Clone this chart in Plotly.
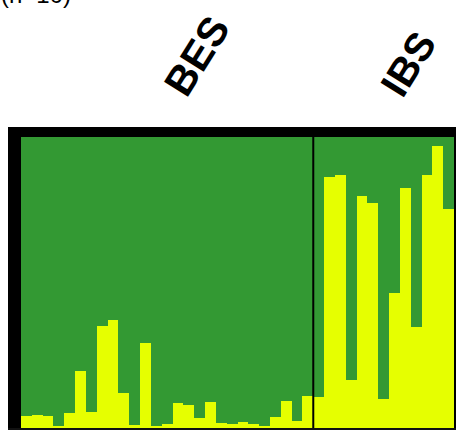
import plotly.graph_objects as go

# Data: ancestry proportion of the yellow cluster for each individual
bes_yellow = [0.042, 0.045, 0.042, 0.008, 0.053, 0.195, 0.056, 0.349, 0.370, 0.120,
              0.010, 0.292, 0.006, 0.014, 0.087, 0.079, 0.033, 0.089, 0.018, 0.014,
              0.019, 0.014, 0.006, 0.037, 0.094, 0.024, 0.111]
ibs_yellow = [0.105, 0.864, 0.870, 0.166, 0.798, 0.772, 0.100, 0.464, 0.824, 0.346,
              0.869, 0.968, 0.752]
group_labels = ["BES", "IBS"]
sample_note = "(n=10)"

yellow = bes_yellow + ibs_yellow
green = [1 - v for v in yellow]
xs = list(range(len(yellow)))

YELLOW = "#E6FF00"
GREEN = "#339933"

fig = go.Figure()
fig.add_trace(go.Bar(x=xs, y=yellow, marker=dict(color=YELLOW, line=dict(width=0)),
                     showlegend=False, hoverinfo="skip"))
fig.add_trace(go.Bar(x=xs, y=green, marker=dict(color=GREEN, line=dict(width=0)),
                     showlegend=False, hoverinfo="skip"))

W, H = 456, 431
L, R, T, B = 21, 2, 137, 3
pw, ph = W - L - R, H - T - B

def px(xp):
    return (xp - L) / pw

def py(yp):
    return (H - B - yp) / ph

n_bes = len(bes_yellow)

shapes = [
    # divider between populations
    dict(type="line", xref="x", yref="paper", x0=n_bes - 0.5, x1=n_bes - 0.5,
         y0=0, y1=1, line=dict(color="black", width=2)),
    # thick left border
    dict(type="rect", xref="paper", yref="paper", x0=px(8), x1=0, y0=py(430), y1=py(127),
         fillcolor="black", line=dict(width=0)),
    # thick top border
    dict(type="rect", xref="paper", yref="paper", x0=px(8), x1=px(470), y0=1, y1=py(127),
         fillcolor="black", line=dict(width=0)),
    # right border start
    dict(type="rect", xref="paper", yref="paper", x0=1, x1=px(470), y0=py(430), y1=py(127),
         fillcolor="black", line=dict(width=0)),
    # bottom thin line
    dict(type="rect", xref="paper", yref="paper", x0=px(8), x1=px(470), y0=py(430), y1=0,
         fillcolor="#111111", line=dict(width=0)),
]

annotations = [
    dict(text="<b>%s</b>" % group_labels[0], xref="paper", yref="paper", x=px(197), y=py(56),
         xanchor="center", yanchor="middle", showarrow=False, textangle=-58,
         font=dict(family="Liberation Sans, Arial", size=41, color="black")),
    dict(text="<b>%s</b>" % group_labels[1], xref="paper", yref="paper", x=px(408), y=py(64),
         xanchor="center", yanchor="middle", showarrow=False, textangle=-58,
         font=dict(family="Liberation Sans, Arial", size=40, color="black")),
    dict(text=sample_note, xref="paper", yref="paper", x=px(-1), y=py(-6),
         xanchor="left", yanchor="middle", showarrow=False,
         font=dict(family="Liberation Sans, Arial", size=24, color="black")),
]

fig.update_layout(
    barmode="stack", bargap=0,
    width=W, height=H,
    margin=dict(l=L, r=R, t=T, b=B, pad=0),
    paper_bgcolor="white", plot_bgcolor=GREEN,
    xaxis=dict(range=[-0.5, len(yellow) - 0.5], visible=False, fixedrange=True),
    yaxis=dict(range=[0, 1], visible=False, fixedrange=True),
    shapes=shapes, annotations=annotations,
)

fig.write_html("out.html", config={"displayModeBar": False, "staticPlot": True},
               post_script="document.body.style.margin='0px';")
